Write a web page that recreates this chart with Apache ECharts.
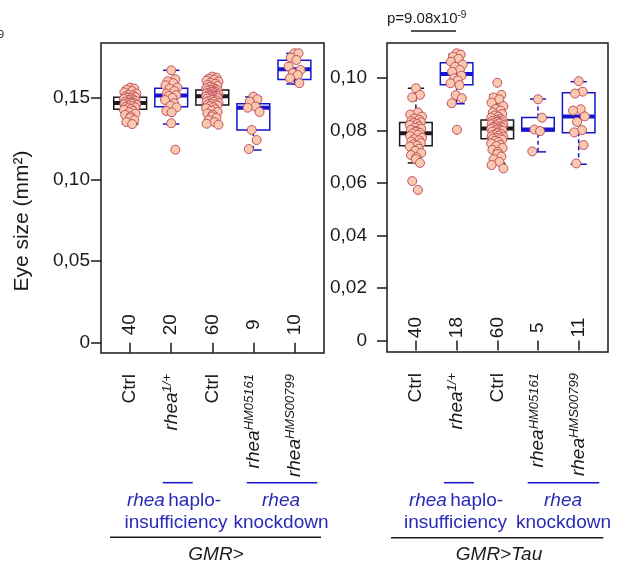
<!DOCTYPE html>
<html><head><meta charset="utf-8">
<script src="https://cdn.jsdelivr.net/npm/echarts@6/dist/echarts.min.js"></script>
<style>html,body{margin:0;padding:0;background:#fff}#c{width:622px;height:565px}</style>
</head><body><div id="c"></div>
<script>
// ---------- DATA ----------
const catLabels = [['Ctrl',''],['rhea','1/+'],['Ctrl',''],['rhea','HM05161'],['rhea','HMS00799']];
const countsA = [40, 20, 60, 9, 10];
const countsB = [40, 18, 60, 5, 11];
const yTicksA = [0, 0.05, 0.10, 0.15];
const yTicksB = [0, 0.02, 0.04, 0.06, 0.08, 0.10];
// box stats: [min whisker, Q1, median, Q3, max whisker]
const boxA = [
  [0.1338, 0.1428, 0.1467, 0.1502, 0.1561],
  [0.1338, 0.1444, 0.1512, 0.1557, 0.1667],
  [0.1334, 0.1455, 0.1508, 0.1547, 0.1628],
  [0.1179, 0.1302, 0.1438, 0.1463, 0.1504],
  [0.1583, 0.1610, 0.1673, 0.1728, 0.1771]
];
const boxB = [
  [0.0676, 0.0741, 0.0789, 0.0830, 0.0960],
  [0.0901, 0.0973, 0.1014, 0.1057, 0.1090],
  [0.0675, 0.0768, 0.0807, 0.0839, 0.0935],
  [0.0718, 0.0797, 0.0803, 0.0849, 0.0919],
  [0.0671, 0.0791, 0.0853, 0.0943, 0.0985]
];
// individual points, panel GMR>
const ptsA1 = [0.1561,0.1555,0.1548,0.1540,0.1532,0.1525,0.1518,0.1512,0.1507,0.1503,0.1500,0.1496,0.1492,0.1488,0.1484,0.1480,0.1476,0.1472,0.1469,0.1467,0.1465,0.1462,0.1459,0.1456,0.1452,0.1448,0.1444,0.1440,0.1435,0.1430,0.1425,0.1418,0.1410,0.1402,0.1394,0.1385,0.1375,0.1362,0.1350,0.1338];
const ptsA2 = [0.1667,0.1612,0.1600,0.1588,0.1575,0.1562,0.1555,0.1540,0.1525,0.1515,0.1510,0.1498,0.1485,0.1465,0.1450,0.1440,0.1418,0.1410,0.1343,0.1181];
const ptsA3 = [0.1628,0.1622,0.1615,0.1610,0.1603,0.1598,0.1590,0.1585,0.1578,0.1572,0.1566,0.1560,0.1555,0.1551,0.1548,
  0.1545,0.1542,0.1539,0.1536,0.1533,0.1530,0.1527,0.1524,0.1521,0.1518,0.1515,0.1513,0.1511,0.1509,0.1508,
  0.1506,0.1503,0.1500,0.1497,0.1494,0.1490,0.1487,0.1483,0.1479,0.1475,0.1471,0.1467,0.1463,0.1459,0.1456,
  0.1452,0.1447,0.1441,0.1435,0.1428,0.1420,0.1412,0.1403,0.1395,0.1385,0.1375,0.1362,0.1350,0.1340,0.1334];
const ptsA4 = [0.1506,0.1490,0.1475,0.1445,0.1438,0.1412,0.1302,0.1240,0.1185];
const ptsA5 = [0.1771,0.1771,0.1745,0.1730,0.1690,0.1669,0.1650,0.1638,0.1618,0.1588];
// individual points, panel GMR>Tau
const ptsB1 = [0.0960,0.0935,0.0925,0.0868,0.0860,0.0852,0.0845,0.0840,0.0835,0.0831,
  0.0828,0.0824,0.0820,0.0815,0.0810,0.0806,0.0802,0.0798,0.0794,0.0790,
  0.0788,0.0783,0.0778,0.0772,0.0767,0.0762,0.0757,0.0752,0.0747,0.0742,
  0.0738,0.0730,0.0722,0.0714,0.0706,0.0698,0.0690,0.0676,0.0607,0.0573];
const ptsB2 = [0.1093,0.1088,0.1080,0.1072,0.1061,0.1050,0.1042,0.1030,0.1023,0.1008,0.0998,0.0990,0.0979,0.0972,0.0934,0.0922,0.0903,0.0802];
const ptsB3 = [0.0981,0.0935,0.0925,0.0918,0.0905,0.0892,0.0881,0.0875,0.0868,0.0862,0.0857,0.0852,0.0848,0.0844,0.0840,
  0.0838,0.0836,0.0834,0.0832,0.0830,0.0828,0.0826,0.0823,0.0820,0.0818,0.0815,0.0813,0.0811,0.0809,0.0807,
  0.0805,0.0803,0.0800,0.0798,0.0795,0.0792,0.0789,0.0786,0.0783,0.0780,0.0777,0.0775,0.0772,0.0770,0.0768,
  0.0765,0.0760,0.0755,0.0750,0.0745,0.0740,0.0733,0.0726,0.0718,0.0710,0.0700,0.0690,0.0680,0.0668,0.0655];
const ptsB4 = [0.0918,0.0848,0.0803,0.0797,0.0720];
const ptsB5 = [0.0987,0.0947,0.0940,0.0880,0.0875,0.0853,0.0832,0.0801,0.0792,0.0744,0.0674];

// ---------- STYLE / LAYOUT ----------
const FONT = '"Liberation Sans", Arial, sans-serif';
const BLACK = '#1a1a1a', BLUE = '#1515d0', TXTBLUE = '#2a2ab8';
const boxColors = [BLACK, BLUE, BLACK, BLUE, BLUE];
const JIT = [0, 0.10, -0.09, 0.05, -0.14, 0.15, -0.04, 0.08, -0.11, 0.12, -0.06, 0.03, -0.15, 0.07, -0.02, 0.13, -0.12, 0.01];

const chart = echarts.init(document.getElementById('c'), null, {renderer: 'canvas'});

const fmtY = v => v === 0 ? '0' : v.toFixed(2).replace('.', ',');
const fmtX = v => {
  const c = catLabels[Math.round(v) - 1];
  return c[1] ? '{i|' + c[0] + '}{s|' + c[1] + '}' : '{n|' + c[0] + '}';
};
const xRich = {
  n: {fontSize: 19, fontFamily: FONT, color: BLACK},
  i: {fontSize: 19, fontFamily: FONT, fontStyle: 'italic', color: BLACK},
  s: {fontSize: 13, fontFamily: FONT, fontStyle: 'italic', color: BLACK, verticalAlign: 'top', padding: [0, 0, 8, 0]}
};

function xAxisFor(gi) {
  return {
    gridIndex: gi, type: 'value', min: 0.29, max: 5.72,
    axisLine: {show: false}, splitLine: {show: false},
    axisTick: {show: true, customValues: [1, 2, 3, 4, 5], length: 10, lineStyle: {color: BLACK, width: 1.5}},
    axisLabel: {show: true, customValues: [1, 2, 3, 4, 5], rotate: 90, margin: 21, formatter: fmtX, rich: xRich}
  };
}
function yAxisFor(gi, min, max, ticks, margin) {
  return {
    gridIndex: gi, type: 'value', min: min, max: max,
    axisLine: {show: false}, splitLine: {show: false},
    axisTick: {show: true, customValues: ticks, length: 10, lineStyle: {color: BLACK, width: 1.5}},
    axisLabel: {show: true, customValues: ticks, margin: margin, formatter: fmtY,
      fontSize: 19, fontFamily: FONT, color: BLACK}
  };
}

function boxSeries(gi, stats, counts, countOffset) {
  return {
    type: 'custom', xAxisIndex: gi, yAxisIndex: gi, z: 2,
    data: stats.map((s, i) => [i + 1, s[0], s[1], s[2], s[3], s[4], counts[i]]),
    encode: {x: 0, y: [1, 2, 3, 4, 5]},
    renderItem: function (params, api) {
      const x = api.value(0);
      const col = boxColors[params.dataIndex];
      const w = api.size([0.8, 0])[0];
      const cap = w / 2;
      const P = k => api.coord([x, api.value(k)]);
      const pmin = P(1), pq1 = P(2), pmed = P(3), pq3 = P(4), pmax = P(5);
      const cx = pmin[0];
      const zero = api.coord([x, 0]);
      const ls = {stroke: col, lineWidth: 1.5};
      return {
        type: 'group',
        children: [
          {type: 'line', shape: {x1: cx, y1: pmin[1], x2: cx, y2: pq1[1]}, style: Object.assign({lineDash: [4, 3]}, ls)},
          {type: 'line', shape: {x1: cx, y1: pq3[1], x2: cx, y2: pmax[1]}, style: Object.assign({lineDash: [4, 3]}, ls)},
          {type: 'line', shape: {x1: cx - cap / 2, y1: pmin[1], x2: cx + cap / 2, y2: pmin[1]}, style: ls},
          {type: 'line', shape: {x1: cx - cap / 2, y1: pmax[1], x2: cx + cap / 2, y2: pmax[1]}, style: ls},
          {type: 'rect', shape: {x: cx - w / 2, y: pq3[1], width: w, height: pq1[1] - pq3[1]}, style: {fill: '#fff', stroke: col, lineWidth: 1.5}},
          {type: 'line', shape: {x1: cx - w / 2, y1: pmed[1], x2: cx + w / 2, y2: pmed[1]}, style: {stroke: col, lineWidth: 4}},
          {type: 'text', x: cx, y: zero[1] - countOffset, rotation: Math.PI / 2,
            style: {text: String(api.value(6)), font: '19px ' + FONT, fill: BLACK,
              textAlign: 'center', textVerticalAlign: 'middle', align: 'center', verticalAlign: 'middle'}}
        ]
      };
    }
  };
}
function pointSeries(gi, idx, vals) {
  return {
    type: 'scatter', xAxisIndex: gi, yAxisIndex: gi, z: 5,
    symbol: 'circle', symbolSize: 9,
    itemStyle: {color: '#f8c9ad', borderColor: '#c25061', borderWidth: 1, opacity: 1},
    data: vals.map((v, k) => [idx + JIT[k % JIT.length], v])
  };
}

function txt(x, y, text, opts) {
  return Object.assign({type: 'text', x: x, y: y, silent: true,
    style: Object.assign({text: text, font: '19px ' + FONT, fill: TXTBLUE, textAlign: 'center', textVerticalAlign: 'middle',
      align: 'center', verticalAlign: 'middle'}, (opts && opts.style) || {})}, (opts && opts.el) || {});
}
function hline(x1, x2, y, color) {
  return {type: 'line', silent: true, shape: {x1: x1, y1: y, x2: x2, y2: y}, style: {stroke: color, lineWidth: 1.5}};
}
const groupRich = {
  i: {fontSize: 19, fontFamily: FONT, fontStyle: 'italic', fill: TXTBLUE, color: TXTBLUE},
  n: {fontSize: 19, fontFamily: FONT, fill: TXTBLUE, color: TXTBLUE}
};
function richTxt(x, y, text, rich, extra) {
  return Object.assign({type: 'text', x: x, y: y, silent: true,
    style: {text: text, rich: rich, textAlign: 'center', textVerticalAlign: 'middle', align: 'center', verticalAlign: 'middle'}}, extra || {});
}

const graphic = [
  // y-axis title
  {type: 'text', x: 22, y: 221, rotation: Math.PI / 2, silent: true,
    style: {text: 'Eye size (mm²)', font: '21px ' + FONT, fill: BLACK, textAlign: 'center', textVerticalAlign: 'middle', align: 'center', verticalAlign: 'middle'}},
  // cropped fragment top-left
  {type: 'text', x: -2, y: 35, silent: true, style: {text: '9', font: '11px ' + FONT, fill: BLACK, textAlign: 'left', textVerticalAlign: 'middle', align: 'left', verticalAlign: 'middle'}},
  // p value
  richTxt(387, 19, '{n|p=9.08x10}{s|-9}', {
    n: {fontSize: 15, fontFamily: FONT, color: BLACK, fill: BLACK},
    s: {fontSize: 10, fontFamily: FONT, color: BLACK, fill: BLACK, verticalAlign: 'top', padding: [0, 0, 7, 0]}
  }, {style: undefined}),
  hline(411, 456, 31, BLACK),
  // panel 1 group annotations
  hline(162.7, 192.7, 482.7, BLUE),
  hline(246.7, 317.3, 482.7, BLUE),
  richTxt(174, 501, '{i|rhea} {n|haplo-}', groupRich),
  txt(176, 523, 'insufficiency'),
  richTxt(281, 501, '{i|rhea}', groupRich),
  txt(281, 523, 'knockdown'),
  hline(110, 321, 537.3, BLACK),
  txt(216, 555, 'GMR>', {style: {fill: BLACK, font: 'italic 19px ' + FONT}}),
  // panel 2 group annotations
  hline(444, 474, 482.7, BLUE),
  hline(527.7, 599.3, 482.7, BLUE),
  richTxt(456, 501, '{i|rhea} {n|haplo-}', groupRich),
  txt(455.5, 523, 'insufficiency'),
  richTxt(563, 501, '{i|rhea}', groupRich),
  txt(563.5, 523, 'knockdown'),
  hline(391, 603.3, 537.7, BLACK),
  txt(499, 555, 'GMR>Tau', {style: {fill: BLACK, font: 'italic 19px ' + FONT}})
];
// fix p-value element style (richTxt with rich needs style kept)
graphic[2] = {type: 'text', x: 387, y: 19, silent: true,
  style: {text: '{n|p=9.08x10}{s|-9}', textAlign: 'left', textVerticalAlign: 'middle', align: 'left', verticalAlign: 'middle',
    rich: {
      n: {fontSize: 15, fontFamily: FONT, fill: BLACK, color: BLACK},
      s: {fontSize: 10, fontFamily: FONT, fill: BLACK, color: BLACK, verticalAlign: 'top', padding: [0, 0, 7, 0]}
    }}};

const option = {
  animation: false,
  backgroundColor: '#fff',
  grid: [
    {left: 101, top: 43, width: 223, height: 310, show: true, borderColor: BLACK, borderWidth: 1.5, backgroundColor: 'transparent'},
    {left: 387, top: 43, width: 221, height: 309, show: true, borderColor: BLACK, borderWidth: 1.5, backgroundColor: 'transparent'}
  ],
  xAxis: [xAxisFor(0), xAxisFor(1)],
  yAxis: [yAxisFor(0, -0.0063, 0.1834, yTicksA, 11), yAxisFor(1, -0.00434, 0.11322, yTicksB, 20)],
  series: [
    boxSeries(0, boxA, countsA, 18),
    boxSeries(1, boxB, countsB, 13),
    pointSeries(0, 1, ptsA1), pointSeries(0, 2, ptsA2), pointSeries(0, 3, ptsA3), pointSeries(0, 4, ptsA4), pointSeries(0, 5, ptsA5),
    pointSeries(1, 1, ptsB1), pointSeries(1, 2, ptsB2), pointSeries(1, 3, ptsB3), pointSeries(1, 4, ptsB4), pointSeries(1, 5, ptsB5)
  ],
  graphic: graphic
};
chart.setOption(option);
</script>
</body></html>
